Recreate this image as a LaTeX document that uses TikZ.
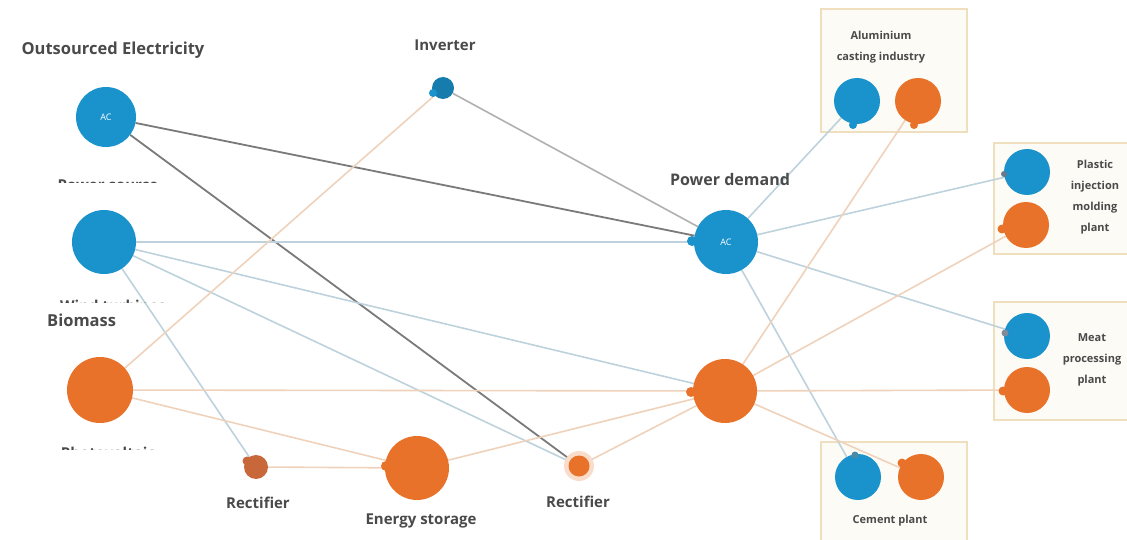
\documentclass[tikz,border=0pt]{standalone}
\usepackage{fontspec}
\setmainfont{Open Sans}
\definecolor{cblue}{HTML}{1A92CC}
\definecolor{corange}{HTML}{E8722A}
\definecolor{cbrown}{HTML}{C8683A}
\definecolor{ltext}{HTML}{4A4A4A}
\definecolor{lblue}{HTML}{BDD2DC}
\definecolor{lorange}{HTML}{EFD2BC}
\definecolor{lgrey}{HTML}{B0B0B0}
\definecolor{dgrey}{HTML}{7A7A7A}
\definecolor{navy}{HTML}{2A3F5A}
\definecolor{boxedge}{HTML}{EFDFBF}
\definecolor{boxfill}{HTML}{FDFBF5}
\pgfdeclarelayer{boxes}
\pgfdeclarelayer{edges}
\pgfsetlayers{boxes,edges,main}
\tikzset{
  bnode/.style={circle,fill=cblue,inner sep=0pt,text=white,font=\fontsize{9}{10}\selectfont},
  onode/.style={circle,fill=corange,inner sep=0pt,text=white,font=\fontsize{9}{10}\selectfont},
  lab/.style={text=ltext,font=\bfseries\fontsize{15}{17}\selectfont,inner sep=0pt},
  slab/.style={text=ltext,font=\bfseries\fontsize{11}{21}\selectfont,inner sep=0pt,align=center},
  ebl/.style={draw=lblue,line width=1.6pt},
  eor/.style={draw=lorange,line width=1.6pt},
  egr/.style={draw=lgrey,line width=1.6pt},
  edg/.style={draw=dgrey,line width=1.8pt},
  tailb/.style={circle,fill=cblue,inner sep=0pt,minimum size=8pt},
  tailo/.style={circle,fill=corange,inner sep=0pt,minimum size=8pt},
  indbox/.style={draw=boxedge,line width=2.5pt,fill=boxfill},
}
\begin{document}
\begin{tikzpicture}[x=1pt,y=-1pt]
\useasboundingbox (0,0) rectangle (1127,540);
% ---- labels
\node[lab,font=\bfseries\fontsize{16.5}{18}\selectfont] (tOut) at (113,50) {Outsourced Electricity};
\node[lab,anchor=west,font=\bfseries\fontsize{16.5}{18}\selectfont] (tBio) at (47,320) {Biomass};
\node[lab] (tInv) at (445,45) {Inverter};
\node[lab,font=\bfseries\fontsize{16}{18}\selectfont] (tPD) at (730,180) {Power demand};
\node[lab] (tR1) at (258,503) {Rectifier};
\node[lab] (tES) at (421,521) {Energy storage};
\node[lab] (tR2) at (578,502) {Rectifier};
\begin{scope}
\clip (0,168) rectangle (260,182.5);
\node[lab] (tPS) at (108,185) {Power source};
\end{scope}
\begin{scope}
\clip (0,292) rectangle (260,302.5);
\node[lab] (tWT) at (113,306) {Wind turbines};
\end{scope}
\begin{scope}
\clip (0,438) rectangle (260,449.5);
\node[lab] (tPV) at (108,453) {Photovoltaic};
\end{scope}
% ---- source nodes
\node[bnode,minimum size=60pt] (ac) at (106,117) {AC};
\node[bnode,minimum size=64pt] (wind) at (104,242) {};
\node[onode,minimum size=66pt] (pv) at (100,390) {};
\node[bnode,minimum size=22pt,fill=cblue!85!black] (inv) at (443,88) {};
\node[onode,minimum size=24pt,fill=cbrown] (r1) at (256,467) {};
\node[onode,minimum size=64pt] (es) at (417,468) {};
\node[circle,fill=corange!25,minimum size=30pt,inner sep=0pt] (r2glow) at (579,466) {};
\node[onode,minimum size=21pt] (r2) at (579,466) {};
% ---- demand nodes
\node[bnode,minimum size=64pt] (dac) at (726,242) {AC};
\node[onode,minimum size=64pt] (dor) at (725,391) {};
% ---- industry boxes
\node[bnode,minimum size=46pt] (alB) at (857,101) {};
\node[onode,minimum size=46pt] (alO) at (918,101) {};
\node[slab] (tAl) at (881,47) {Aluminium\\casting industry};
\node[bnode,minimum size=46pt] (plB) at (1027,172) {};
\node[onode,minimum size=46pt] (plO) at (1026,225) {};
\node[slab] (tPl) at (1095,197) {Plastic\\injection\\molding\\plant};
\node[bnode,minimum size=46pt] (meB) at (1027,336) {};
\node[onode,minimum size=46pt] (meO) at (1027,390) {};
\node[slab] (tMe) at (1092,360) {Meat\\processing\\plant};
\node[bnode,minimum size=46pt] (ceB) at (858,477) {};
\node[onode,minimum size=46pt] (ceO) at (921,477) {};
\node[slab] (tCe) at (890,521) {Cement plant};
\begin{pgfonlayer}{boxes}
\draw[indbox] (821,9) rectangle (967,132);
\draw[indbox] (994,143) rectangle (1132,254);
\draw[indbox] (994,302) rectangle (1132,420);
\draw[indbox] (821,442) rectangle (967,545);
\end{pgfonlayer}
% ---- edges
\begin{pgfonlayer}{edges}
\draw[edg] (ac) -- (dac);
\draw[edg] (ac) -- (r2) node[pos=1,circle,fill=navy,inner sep=0pt,minimum size=6pt] {};
\draw[ebl] (wind) -- (dac);
\draw[ebl] (wind) -- (dor);
\draw[ebl] (wind) -- (r2);
\draw[ebl] (wind) -- (r1);
\draw[eor] (pv) -- (inv);
\draw[eor] (pv) -- (dor);
\draw[eor] (pv) -- (es);
\draw[eor] (r1) -- (es);
\draw[egr] (inv) -- (dac);
\draw[eor] (es) -- (dor);
\draw[eor] (r2) -- (dor);
\draw[ebl] (dac) -- (alB);
\draw[ebl] (dac) -- (plB);
\draw[ebl] (dac) -- (meB);
\draw[ebl] (dac) -- (ceB);
\draw[eor] (dor) -- (alO);
\draw[eor] (dor) -- (plO);
\draw[eor] (dor) -- (meO);
\draw[eor] (dor) -- (ceO);
\end{pgfonlayer}
% ---- tails
\node[tailb,minimum size=8pt] (tlInv) at (433,93) {};
\node[tailo,minimum size=9pt,fill=cbrown] (tlR1) at (247,461) {};
\node[tailo,minimum size=10pt] (tlES) at (386,466) {};
\node[tailb,minimum size=10pt] (tlDac) at (692,241) {};
\node[tailo,minimum size=10pt] (tlDor) at (691,392) {};
\node[tailb,minimum size=8pt] (tlAlB) at (853,125) {};
\node[tailo,minimum size=8pt] (tlAlO) at (914,125) {};
\node[tailb,minimum size=6pt,fill=navy!70] (tlPlB) at (1004,174) {};
\node[tailo,minimum size=9pt] (tlPlO) at (1002,229) {};
\node[tailb,minimum size=7pt,fill=navy!60] (tlMeB) at (1005,333) {};
\node[tailo,minimum size=9pt] (tlMeO) at (1003,391) {};
\node[tailb,minimum size=7pt,fill=cblue!50!gray] (tlCeB) at (855,455) {};
\node[tailo,minimum size=9pt] (tlCeO) at (902,463) {};
\end{tikzpicture}
\end{document}
